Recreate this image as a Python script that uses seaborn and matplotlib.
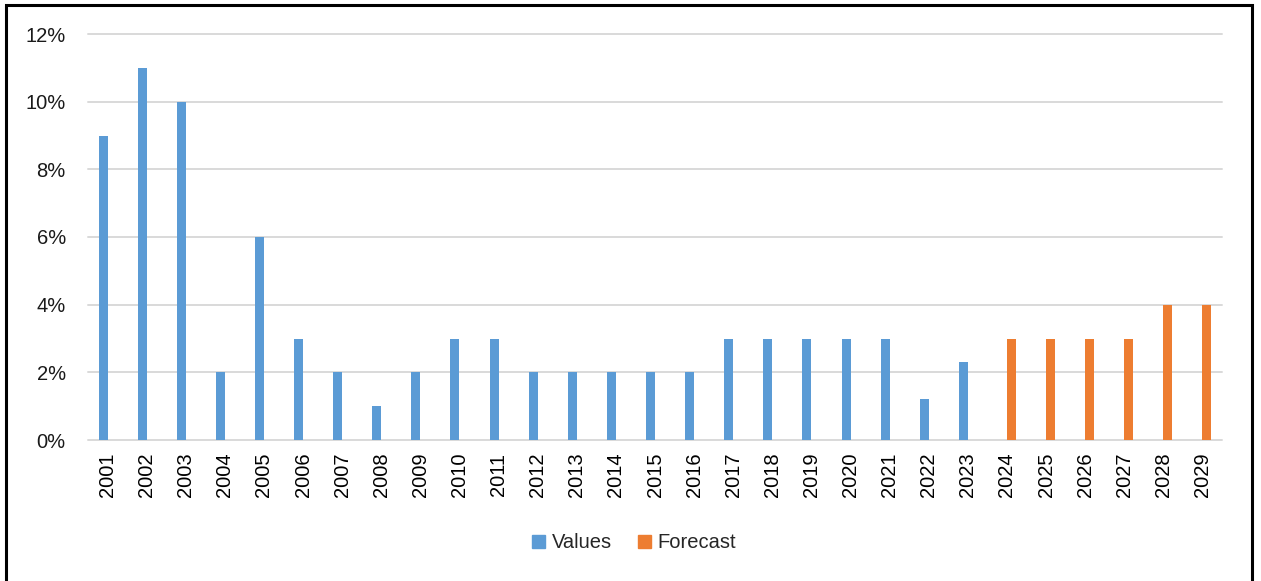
import matplotlib
matplotlib.use("Agg")
import matplotlib.pyplot as plt
from matplotlib.patches import Rectangle
from matplotlib.ticker import FuncFormatter
import pandas as pd
import seaborn as sns

# Annual growth rates (%), actuals and forecast
years_actual = list(range(2001, 2024))
values_actual = [9, 11, 10, 2, 6, 3, 2, 1, 2, 3, 3, 2, 2, 2, 2, 2, 3, 3, 3, 3, 3, 1.2, 2.3]
years_forecast = list(range(2024, 2030))
values_forecast = [3, 3, 3, 3, 4, 4]
series_names = ["Values", "Forecast"]
series_colors = ["#5B9BD5", "#ED7D31"]
y_ticks = [0, 2, 4, 6, 8, 10, 12]

df = pd.concat([
    pd.DataFrame({"year": [str(y) for y in years_actual], "value": values_actual, "series": series_names[0]}),
    pd.DataFrame({"year": [str(y) for y in years_forecast], "value": values_forecast, "series": series_names[1]}),
], ignore_index=True)
order = [str(y) for y in years_actual + years_forecast]

sns.set_theme(style="white")
plt.rcParams["font.family"] = ["Liberation Sans", "DejaVu Sans"]

W, H = 1261, 581
fig = plt.figure(figsize=(W / 100, H / 100), dpi=100)
ax = fig.add_axes([88 / W, (H - 440) / H, (1222 - 88) / W, (440 - 34) / H])

sns.barplot(data=df, x="year", y="value", hue="series", order=order,
            hue_order=series_names, palette=series_colors, width=0.46,
            dodge=True, linewidth=0, saturation=1, errorbar=None, ax=ax)

ax.set_xlim(-0.5, len(order) - 0.5)
ax.set_ylim(0, 12)
ax.set_yticks(y_ticks)
ax.yaxis.set_major_formatter(FuncFormatter(lambda v, p: f"{v:.0f}%"))
ax.set_xlabel("")
ax.set_ylabel("")
ax.set_axisbelow(True)
ax.grid(axis="y", color="#D9D9D9", linewidth=1.4)
ax.grid(axis="x", visible=False)
for gl in ax.get_ygridlines():
    gl.set_clip_on(False)
for s in ax.spines.values():
    s.set_visible(False)
ax.tick_params(axis="x", length=0, pad=9, labelsize=14.5, labelrotation=90, colors="#000000")
ax.tick_params(axis="y", length=0, pad=16, labelsize=14.5, colors="#1a1a1a")

ax.get_legend().remove()
handles = [Rectangle((0, 0), 1, 1, color=c) for c in series_colors]
fig.legend(handles, series_names, loc="center", bbox_to_anchor=(634 / W, (H - 543) / H),
           ncol=2, frameon=False, fontsize=14.5, handlelength=0.65, handleheight=0.65,
           handletextpad=0.3, columnspacing=1.3)

# outer frame
fig.patches.append(Rectangle((6 / W, -0.05), (1252 - 6) / W, 1.05 - 5 / H,
                             transform=fig.transFigure, fill=False,
                             edgecolor="black", linewidth=2.2))

fig.savefig("out.png", dpi=100)
